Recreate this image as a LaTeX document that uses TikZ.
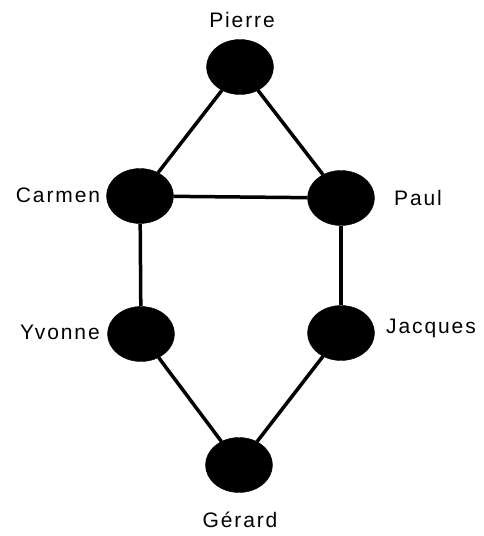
\documentclass[tikz,border=0pt]{standalone}
\usepackage{fontspec}
\setmainfont{Liberation Sans}[LetterSpace=9]
\usetikzlibrary{shapes.geometric}
\begin{document}
\begin{tikzpicture}[x=1pt,y=-1pt,
  person/.style={ellipse,fill=black,draw=black,minimum width=67pt,minimum height=55pt,inner sep=0pt},
  lbl/.style={anchor=base,inner sep=0pt,font=\fontsize{21}{25}\selectfont},
  link/.style={line width=3.5pt}]
\useasboundingbox (0,0) rectangle (483,536);
\node[person] (pierre) at (240,67) {};
\node[person] (carmen) at (140,196) {};
\node[person] (paul) at (341,198) {};
\node[person] (yvonne) at (141,334) {};
\node[person] (jacques) at (341,333) {};
\node[person] (gerard) at (239,465) {};
\node[lbl] (lpierre) at (242,27) {Pierre};
\node[lbl] (lcarmen) at (58,202) {Carmen};
\node[lbl] (lpaul) at (418,205) {Paul};
\node[lbl] (lyvonne) at (60,339) {Yvonne};
\node[lbl] (ljacques) at (431,333) {Jacques};
\node[lbl] (lgerard) at (240,527) {Gérard};
\draw[link] (pierre) -- (carmen);
\draw[link] (pierre) -- (paul);
\draw[link] (carmen) -- (paul);
\draw[link] (carmen) -- (yvonne);
\draw[link] (paul) -- (jacques);
\draw[link] (yvonne) -- (gerard);
\draw[link] (jacques) -- (gerard);
\end{tikzpicture}
\end{document}
